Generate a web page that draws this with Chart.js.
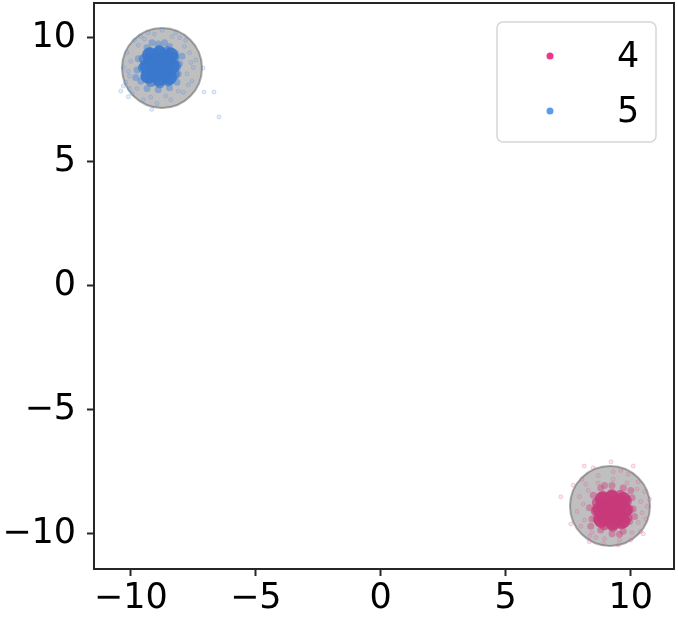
<!DOCTYPE html>
<html>
<head>
<meta charset="utf-8">
<script src="https://cdn.jsdelivr.net/npm/chart.js@4.4.0/dist/chart.umd.min.js"></script>
<style>
  html, body { margin: 0; padding: 0; background: #fff; }
  #wrap { width: 678px; height: 620px; }
</style>
</head>
<body>
<div id="wrap"><canvas id="chart" width="678" height="620"></canvas></div>
<script>
// classes in legend order
const labels = ['4', '5'];
const legendColors = ['#f0368a', '#5c9cf0'];

// axes
const xTicks = [-10, -5, 0, 5, 10];
const yTicks = [-10, -5, 0, 5, 10];
const xRange = [-11.47, 11.73];
const yRange = [-11.42, 11.40];

// grey circle around each cluster (centre and radius in data units)
const circleCentres = [[9.17, -8.88], [-8.75, 8.78]];
const circleR = [1.6, 1.6];

// class 4 (pink), bottom right
const core4 = [[9.26, -9.04], [9.50, -8.98], [9.00, -9.10], [9.30, -8.80], [9.20, -9.30], [9.55, -8.72],
  [8.95, -8.85], [9.00, -9.35], [9.52, -9.30], [9.76, -9.05], [8.76, -9.02], [9.25, -8.55],
  [9.28, -9.55], [9.68, -9.48], [8.82, -9.45], [8.86, -8.60], [9.70, -8.62]];
const ring4 = [[9.90, -9.02], [9.83, -8.68], [9.58, -8.45], [9.24, -8.42], [8.90, -8.50], [8.66, -8.74],
  [8.62, -9.08], [8.70, -9.40], [8.94, -9.64], [9.28, -9.70], [9.62, -9.60], [9.85, -9.36]];
const halo4 = [[10.10, -9.00], [10.05, -8.55], [9.95, -9.50], [9.70, -9.90], [9.25, -10.00], [8.80, -9.85],
  [8.45, -9.40], [8.35, -8.95], [8.50, -8.45], [8.80, -8.15], [9.25, -8.05], [9.70, -8.15],
  [10.00, -8.25], [10.15, -9.30], [8.40, -9.70], [9.55, -10.02], [8.95, -8.05]];
const spray4 = [[10.65, -8.90], [10.55, -8.30], [10.30, -7.90], [9.90, -7.60], [9.30, -7.50], [8.70, -7.65],
  [8.20, -8.00], [7.95, -8.50], [7.85, -9.10], [8.00, -9.70], [8.35, -10.10], [8.90, -10.40],
  [9.50, -10.45], [10.00, -10.25], [10.40, -9.90], [10.60, -9.40], [10.75, -8.60], [8.05, -7.80],
  [9.60, -7.45], [10.50, -10.00],
  [10.40, -8.70], [10.30, -9.55], [10.05, -9.95], [9.55, -10.25], [8.95, -10.20], [8.45, -9.95],
  [8.15, -9.45], [8.10, -8.80], [8.30, -8.25], [8.70, -7.95], [9.30, -7.80], [9.85, -7.95],
  [10.25, -8.20], [10.45, -9.15], [8.60, -10.15],
  [8.14, -7.27], [8.50, -7.34], [9.21, -7.10], [10.10, -7.27], [7.20, -8.51], [7.70, -8.04],
  [7.60, -9.61], [8.34, -10.32]];

// class 5 (blue), top left
const core5 = [[-8.85, 8.85], [-8.60, 8.90], [-9.10, 8.80], [-8.80, 9.10], [-8.90, 8.60], [-8.55, 9.15],
  [-9.15, 9.05], [-9.10, 8.55], [-8.60, 8.60], [-8.35, 8.85], [-9.35, 8.85], [-8.85, 9.35],
  [-8.85, 8.35], [-8.45, 8.40], [-9.30, 8.45], [-9.25, 9.30], [-8.40, 9.30]];
const ring5 = [[-8.20, 8.86], [-8.28, 9.20], [-8.52, 9.44], [-8.86, 9.50], [-9.22, 9.40], [-9.46, 9.14],
  [-9.50, 8.78], [-9.40, 8.44], [-9.18, 8.24], [-8.84, 8.18], [-8.50, 8.26], [-8.26, 8.52]];
const halo5 = [[-8.05, 8.95], [-8.10, 8.55], [-8.20, 9.35], [-8.45, 9.65], [-8.90, 9.75], [-9.35, 9.60],
  [-9.70, 9.15], [-9.75, 8.70], [-9.60, 8.25], [-9.35, 7.95], [-8.90, 7.90], [-8.45, 7.98],
  [-8.15, 8.20], [-7.95, 9.25], [-9.80, 8.40], [-8.65, 9.80], [-9.15, 9.80]];
const spray5 = [[-7.50, 8.80], [-7.65, 9.40], [-7.80, 9.90], [-8.20, 10.20], [-8.75, 10.30], [-9.30, 10.20],
  [-9.85, 9.90], [-10.15, 9.40], [-10.30, 8.80], [-10.20, 8.20], [-9.95, 7.75], [-9.50, 7.50],
  [-8.95, 7.35], [-8.40, 7.50], [-7.90, 7.80], [-7.55, 8.25], [-7.40, 9.10], [-8.05, 10.00],
  [-9.60, 10.05], [-10.05, 7.95],
  [-7.75, 8.55], [-7.85, 9.65], [-8.35, 10.05], [-9.05, 10.15], [-9.70, 9.70], [-10.00, 9.05],
  [-10.05, 8.45], [-9.75, 7.95], [-9.20, 7.60], [-8.60, 7.65], [-8.10, 7.85], [-7.70, 8.10],
  [-7.60, 9.00], [-9.45, 9.95], [-10.10, 8.65],
  [-7.11, 8.78], [-7.07, 7.81], [-6.67, 7.81], [-6.47, 6.80], [-10.40, 7.85], [-10.30, 8.05],
  [-10.10, 7.62], [-9.16, 7.11]];

const toPts = arr => arr.map(p => ({ x: p[0], y: p[1] }));
const fmt = v => (v < 0 ? '\u2212' + Math.abs(v) : String(v));
const tickFont = { family: 'DejaVu Sans', size: 35 };

// circle radius follows the x scale
function circleRadius(ctx) {
  const s = ctx.chart.scales.x;
  return Math.abs(s.getPixelForValue(circleR[ctx.dataIndex]) - s.getPixelForValue(0));
}

function dots(data, color, radius, order, edge) {
  return {
    data: toPts(data),
    backgroundColor: color,
    borderColor: edge || color,
    borderWidth: edge ? 0.8 : 0,
    pointRadius: radius,
    pointHoverRadius: radius,
    order: order
  };
}

// box round the plot plus the legend in the top right corner
const framePlugin = {
  id: 'frame',
  afterDraw(chart) {
    const { ctx, chartArea: a } = chart;
    ctx.save();
    ctx.strokeStyle = '#262626';
    ctx.lineWidth = 2;
    ctx.strokeRect(a.left, a.top, a.right - a.left, a.bottom - a.top);

    const w = 159, h = 120;
    const bx = a.right - 18 - w, by = a.top + 19;
    ctx.beginPath();
    ctx.roundRect(bx, by, w, h, 6);
    ctx.fillStyle = 'rgba(255,255,255,0.8)';
    ctx.fill();
    ctx.strokeStyle = '#d6d6d6';
    ctx.lineWidth = 1.5;
    ctx.stroke();

    labels.forEach((lab, i) => {
      const y = by + 34 + i * 55;
      ctx.beginPath();
      ctx.arc(bx + 53, y, 3.5, 0, Math.PI * 2);
      ctx.fillStyle = legendColors[i];
      ctx.fill();
      ctx.fillStyle = '#000';
      ctx.font = '35px "DejaVu Sans"';
      ctx.textAlign = 'left';
      ctx.textBaseline = 'alphabetic';
      ctx.fillText(lab, bx + 120, y + 11);
    });
    ctx.restore();
  }
};

// drop the extra room Chart.js keeps for end labels
function noEndPadding(s) {
  s.paddingLeft = 0; s.paddingRight = 0; s.paddingTop = 0; s.paddingBottom = 0;
}

new Chart(document.getElementById('chart'), {
  type: 'scatter',
  data: {
    datasets: [
      {
        data: toPts(circleCentres),
        backgroundColor: 'rgba(128,128,128,0.5)',
        borderColor: 'rgba(70,70,70,0.45)',
        borderWidth: 2,
        pointRadius: circleRadius,
        pointHoverRadius: circleRadius,
        order: 10
      },
      dots(spray4, 'rgba(230,120,170,0.18)', 2, 6, 'rgba(215,80,145,0.32)'),
      dots(spray5, 'rgba(110,160,235,0.18)', 2, 6, 'rgba(80,135,225,0.32)'),
      dots(halo4, 'rgba(205,65,130,0.45)', 3.5, 4),
      dots(halo5, 'rgba(70,130,215,0.45)', 3.5, 4),
      dots(ring4, 'rgba(202,62,126,0.7)', 5.5, 2),
      dots(ring5, 'rgba(62,124,208,0.7)', 5.5, 2),
      dots(core4, 'rgba(200,58,122,0.9)', 7.5, 1),
      dots(core5, 'rgba(58,120,205,0.9)', 7.5, 1)
    ]
  },
  options: {
    responsive: false,
    animation: false,
    events: [],
    layout: { autoPadding: false, padding: { top: 3, right: 4, left: 0, bottom: 0 } },
    plugins: { legend: { display: false }, tooltip: { enabled: false } },
    scales: {
      x: {
        type: 'linear',
        min: xRange[0],
        max: xRange[1],
        afterBuildTicks: s => { s.ticks = xTicks.map(v => ({ value: v })); },
        afterFit: s => { s.height = 51; noEndPadding(s); },
        ticks: { font: tickFont, color: '#000', padding: 2, maxRotation: 0, autoSkip: false, callback: fmt },
        grid: { drawOnChartArea: false, tickLength: 7, tickWidth: 2, tickColor: '#262626' },
        border: { display: true, color: '#262626', width: 2 }
      },
      y: {
        type: 'linear',
        min: yRange[0],
        max: yRange[1],
        afterBuildTicks: s => { s.ticks = yTicks.map(v => ({ value: v })); },
        afterFit: s => { s.width = 94; noEndPadding(s); },
        ticks: { font: tickFont, color: '#000', padding: 11, autoSkip: false, callback: fmt },
        grid: { drawOnChartArea: false, tickLength: 7, tickWidth: 2, tickColor: '#262626' },
        border: { display: true, color: '#262626', width: 2 }
      }
    }
  },
  plugins: [framePlugin]
});
</script>
</body>
</html>
